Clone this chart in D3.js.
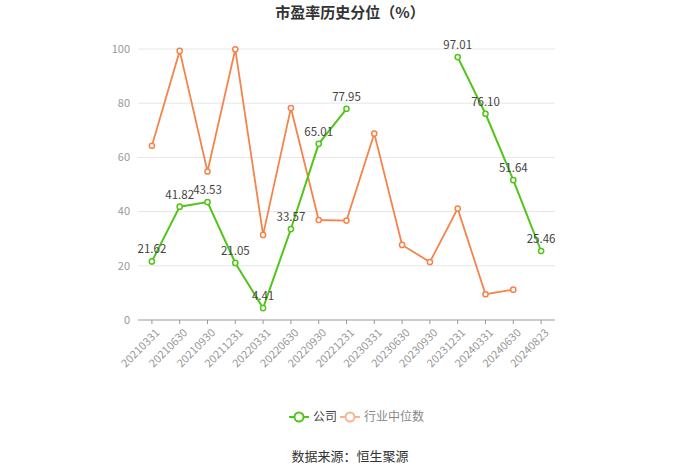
<!DOCTYPE html>
<html><head><meta charset="utf-8">
<script src="https://cdn.jsdelivr.net/npm/d3@7"></script>
<style>body{margin:0;background:#fff;}svg{display:block;font-family:"Noto Sans CJK SC","Noto Sans",sans-serif;}</style>
</head><body><svg id="c" width="700" height="473"></svg>
<script>
const categories = ["20210331","20210630","20210930","20211231","20220331","20220630","20220930","20221231","20230331","20230630","20230930","20231231","20240331","20240630","20240823"];
const companyValues = [21.62,41.82,43.53,21.05,4.41,33.57,65.01,77.95,null,null,null,97.01,76.10,51.64,25.46];
const industryValues = [64.3,99.3,54.8,99.9,31.4,78.2,36.9,36.7,68.8,27.7,21.4,41.1,9.5,11.2,null];
const yTicks = [0,20,40,60,80,100];
const seriesNames = ["公司","行业中位数"];

const green = "#52c41a", orange = "#f5844c";
const svg = d3.select("#c");
const x = d3.scaleBand().domain(categories).range([138,555]);
const y = d3.scaleLinear().domain([0,100]).range([320,49]);
const cx = d => x(d) + x.bandwidth()/2;

svg.append("text").attr("x",350).attr("y",18).attr("text-anchor","middle")
  .attr("font-size",15).attr("font-weight","bold").attr("fill","#333").text("市盈率历史分位（%）");

// grid
svg.append("g").selectAll("line").data(yTicks.filter(t=>t>0)).join("line")
  .attr("x1",138).attr("x2",555).attr("y1",d=>y(d)).attr("y2",d=>y(d))
  .attr("stroke","#e6e6e6").attr("stroke-width",1);
// y labels
svg.append("g").selectAll("text").data(yTicks).join("text")
  .attr("x",130).attr("y",d=>y(d)).attr("dy","0.35em").attr("text-anchor","end")
  .attr("font-size",11).attr("fill","#999").text(d=>d);
// x axis
const xa = svg.append("g").attr("transform","translate(0,320)");
xa.append("line").attr("x1",138).attr("x2",555).attr("stroke","#999");
xa.selectAll("line.t").data(categories).join("line").attr("class","t")
  .attr("x1",cx).attr("x2",cx).attr("y1",0).attr("y2",4).attr("stroke","#999");
xa.selectAll("text").data(categories).join("text")
  .attr("transform",d=>`translate(${cx(d)+3},8) rotate(-45)`)
  .attr("text-anchor","end").attr("dy","0.7em").attr("font-size",11).attr("fill","#999").text(d=>d);

function drawSeries(vals, color, width){
  const data = categories.map((c,i)=>({c,v:vals[i]}));
  const line = d3.line().defined(d=>d.v!=null).x(d=>cx(d.c)).y(d=>y(d.v));
  svg.append("path").datum(data).attr("d",line).attr("fill","none").attr("stroke",color).attr("stroke-width",width);
  svg.append("g").selectAll("circle").data(data.filter(d=>d.v!=null)).join("circle")
    .attr("cx",d=>cx(d.c)).attr("cy",d=>y(d.v)).attr("r",2.6)
    .attr("fill","#fff").attr("stroke",color).attr("stroke-width",1.5);
  return data;
}
drawSeries(industryValues, orange, 1.8);
const gd = drawSeries(companyValues, green, 2);
svg.append("g").selectAll("text").data(gd.filter(d=>d.v!=null)).join("text")
  .attr("x",d=>cx(d.c)).attr("y",d=>y(d.v)-8).attr("text-anchor","middle")
  .attr("font-size",11.5).attr("fill","#444").text(d=>d.v.toFixed(2));

// legend
const lg = svg.append("g");
const items = [{n:seriesNames[0],c:green,x:289,tc:"#444",op:1},{n:seriesNames[1],c:orange,x:340,tc:"#888",op:0.6}];
items.forEach(it=>{
  const g = lg.append("g").attr("opacity",it.op);
  g.append("line").attr("x1",it.x).attr("x2",it.x+20).attr("y1",417).attr("y2",417).attr("stroke",it.c).attr("stroke-width",2);
  g.append("circle").attr("cx",it.x+10).attr("cy",417).attr("r",4.5).attr("fill","#fff").attr("stroke",it.c).attr("stroke-width",2);
  lg.append("text").attr("x",it.x+24).attr("y",417).attr("dy","0.35em").attr("font-size",12).attr("fill",it.tc).text(it.n);
});

svg.append("text").attr("x",350).attr("y",461).attr("text-anchor","middle")
  .attr("font-size",13).attr("fill","#333").text("数据来源：恒生聚源");
</script></body></html>
